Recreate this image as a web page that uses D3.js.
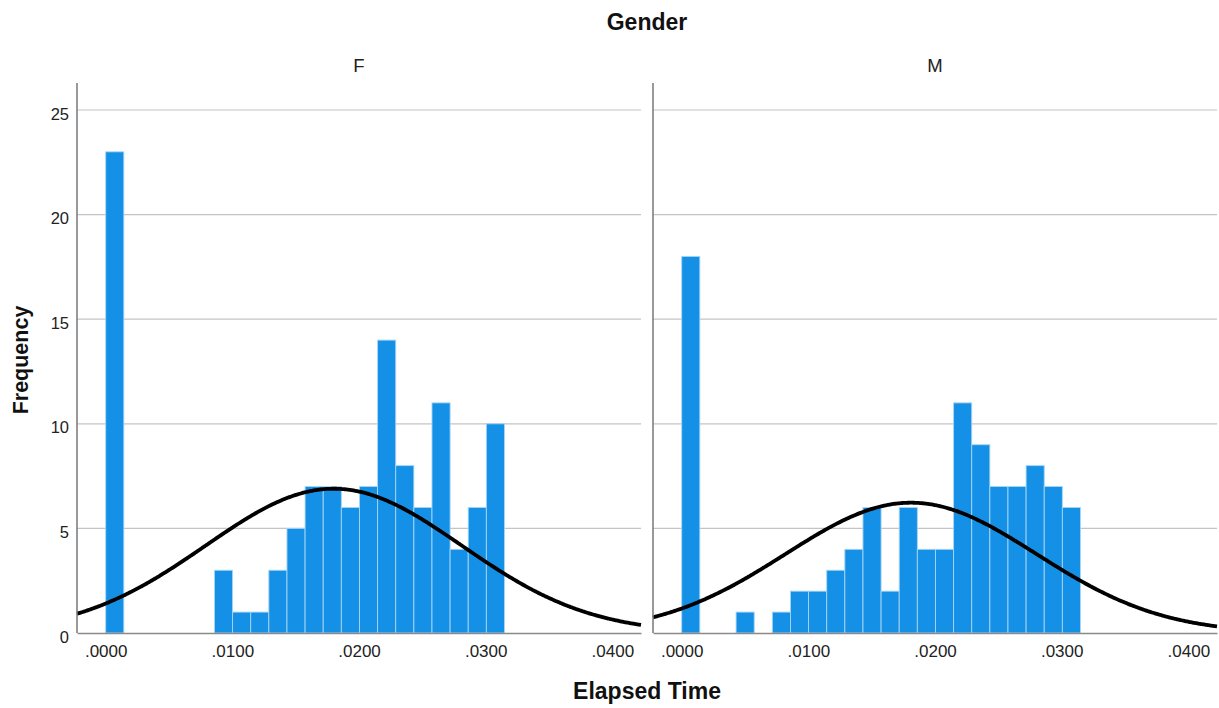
<!DOCTYPE html>
<html>
<head>
<meta charset="utf-8">
<script src="https://cdn.jsdelivr.net/npm/d3@7"></script>
<style>
  html, body { margin: 0; padding: 0; background: #fff; }
  svg { display: block; font-family: "Liberation Sans", Arial, sans-serif; }
</style>
</head>
<body>
<svg id="chart" width="1219" height="708"></svg>
<script>
// ---- data ----
const panels = ["F", "M"];
const binWidth = 0.001431;          // width of each histogram bin (Elapsed Time)
const binStarts = d3.range(22).map(i => i * binWidth);
const countsF = [23,0,0,0,0,0,3,1,1,3,5,7,7,6,7,14,8,6,11,4,6,10];
const countsM = [18,0,0,1,0,1,2,2,3,4,6,2,6,4,4,11,9,7,7,8,7,6];
const normalF = { mean: 0.0180, sd: 0.0101 };
const normalM = { mean: 0.0181, sd: 0.0099 };
const yTicks = [0, 5, 10, 15, 20, 25];
const xTicks = [0.00, 0.01, 0.02, 0.03, 0.04];

const series = [
  { name: panels[0], counts: countsF, normal: normalF },
  { name: panels[1], counts: countsM, normal: normalM }
];

const svg = d3.select("#chart");
const plotTop = 83, plotBottom = 633;
const panelRanges = [[77, 641], [653, 1217]];
const xDomain = [-0.002266, 0.04226];

const y = d3.scaleLinear().domain([0, 26.29]).range([plotBottom, plotTop]);

series.forEach((s, i) => {
  const [x0, x1] = panelRanges[i];
  const x = d3.scaleLinear().domain(xDomain).range([x0, x1]);
  const g = svg.append("g");

  // gridlines
  g.selectAll("line.grid").data(yTicks.filter(t => t > 0)).enter()
    .append("line")
    .attr("x1", x0).attr("x2", x1)
    .attr("y1", d => y(d)).attr("y2", d => y(d))
    .attr("stroke", "#c4c4c4").attr("stroke-width", 1.2);

  // bars
  const bins = binStarts.map((b, k) => ({ x0: b, x1: b + binWidth, n: s.counts[k] })).filter(d => d.n > 0);
  g.selectAll("rect.bar").data(bins).enter()
    .append("rect")
    .attr("x", d => x(d.x0))
    .attr("width", d => x(d.x1) - x(d.x0))
    .attr("y", d => y(d.n))
    .attr("height", d => y(0) - y(d.n))
    .attr("fill", "#1490e6")
    .attr("stroke", "#a8d5f5")
    .attr("stroke-width", 0.9);

  // normal curve
  const total = d3.sum(s.counts);
  const pdf = v => Math.exp(-0.5 * Math.pow((v - s.normal.mean) / s.normal.sd, 2)) / (s.normal.sd * Math.sqrt(2 * Math.PI));
  const pts = d3.range(0, 301).map(k => xDomain[0] + (xDomain[1] - xDomain[0]) * k / 300);
  g.append("path")
    .datum(pts)
    .attr("fill", "none")
    .attr("stroke", "#000")
    .attr("stroke-width", 3.8)
    .attr("d", d3.line().x(v => x(v)).y(v => y(total * binWidth * pdf(v))).curve(d3.curveBasis));

  // x axis
  const xAxis = d3.axisBottom(x).tickValues(xTicks).tickSize(0).tickPadding(12)
    .tickFormat(d => d3.format(".4f")(d).replace(/^0/, ""));
  const ax = g.append("g").attr("transform", `translate(0,${plotBottom})`).call(xAxis);
  ax.select(".domain").attr("stroke", "#8a8a8a").attr("stroke-width", 1.5);
  ax.selectAll("text").attr("font-size", 17).attr("fill", "#222").attr("font-family", "Liberation Sans, Arial, sans-serif");

  // left axis line
  g.append("line").attr("x1", x0).attr("x2", x0).attr("y1", plotTop).attr("y2", plotBottom)
    .attr("stroke", "#777").attr("stroke-width", 1.5);

  // y labels on first panel
  if (i === 0) {
    const yAxis = d3.axisLeft(y).tickValues(yTicks).tickSize(0).tickPadding(8);
    const ay = g.append("g").attr("transform", `translate(${x0},0)`).call(yAxis);
    ay.select(".domain").remove();
    ay.selectAll("text").attr("font-size", 16.5).attr("fill", "#222").attr("dy", "0.55em")
      .attr("font-family", "Liberation Sans, Arial, sans-serif");
  }

  // panel label
  svg.append("text").attr("x", (x0 + x1) / 2).attr("y", 72)
    .attr("text-anchor", "middle").attr("font-size", 18.5).attr("fill", "#222").text(s.name);
});

svg.append("text").attr("x", 647).attr("y", 30).attr("text-anchor", "middle")
  .attr("font-size", 23).attr("font-weight", "bold").attr("fill", "#111").text("Gender");
svg.append("text").attr("x", 647).attr("y", 699).attr("text-anchor", "middle")
  .attr("font-size", 23).attr("font-weight", "bold").attr("fill", "#111").text("Elapsed Time");
svg.append("text").attr("transform", "translate(28,360) rotate(-90)").attr("text-anchor", "middle")
  .attr("font-size", 21.5).attr("font-weight", "bold").attr("fill", "#111").text("Frequency");
</script>
</body>
</html>
